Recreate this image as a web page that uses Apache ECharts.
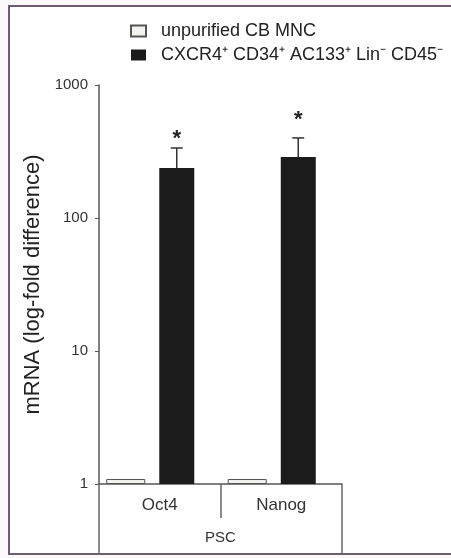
<!DOCTYPE html>
<html><head><meta charset="utf-8">
<script src="https://cdn.jsdelivr.net/npm/echarts@6/dist/echarts.min.js"></script>
<style>html,body{margin:0;padding:0;background:#fdfafc;}#c{width:451px;height:558px;}</style>
</head><body><div id="c"></div>
<script>
const categories = ['Oct4', 'Nanog'];
const groupLabel = ['PSC'];
const unpurified = [1.09, 1.09];
const sorted = [238, 288];
const sortedErrTop = [336, 400];
const starValues = [392, 550];
const yTicks = [1, 10, 100, 1000];
const seriesNames = ['unpurified CB MNC', 'CXCR4\u207A CD34\u207A AC133\u207A Lin\u207B CD45\u207B'];

const chart = echarts.init(document.getElementById('c'), null, {renderer: 'canvas'});
const font = 'Liberation Sans, Arial, Helvetica, sans-serif';
const BLACK_OFFSET = 17;

chart.setOption({
  backgroundColor: 'transparent',
  animation: false,
  graphic: [
    {type: 'rect', z: -10, shape: {x: 9, y: 6, width: 460, height: 548},
     style: {fill: '#ffffff', stroke: '#6e5d72', lineWidth: 2}}
  ],
  legend: {
    data: seriesNames.map(n => ({name: n})),
    orient: 'vertical', left: 130, top: 22, itemGap: 6, padding: 0,
    icon: 'rect', itemWidth: 15, itemHeight: 11,
    selectedMode: false,
    textStyle: {fontFamily: font, fontSize: 18, color: '#222', padding: [0, 0, 0, 10]}
  },
  grid: {left: 99, right: 109, top: 85, bottom: 74, containLabel: false},
  xAxis: [
    {type: 'category', data: categories, position: 'bottom',
     axisLine: {show: true, lineStyle: {color: '#555', width: 1.5}},
     axisTick: {show: true, length: 34, lineStyle: {color: '#666', width: 1.5}},
     axisLabel: {fontFamily: font, fontSize: 17, color: '#333', margin: 13}},
    {type: 'category', data: groupLabel, position: 'bottom',
     axisLine: {show: false},
     axisTick: {show: true, length: 70, lineStyle: {color: '#666', width: 1.5}},
     axisLabel: {fontFamily: font, fontSize: 15, color: '#333', margin: 46}}
  ],
  yAxis: {
    type: 'log', logBase: 10, min: yTicks[0], max: yTicks[yTicks.length - 1],
    name: 'mRNA (log-fold difference)', nameLocation: 'middle', nameGap: 50,
    nameTextStyle: {fontFamily: font, fontSize: 22, color: '#222'},
    axisLine: {show: true, lineStyle: {color: '#555', width: 1.5}},
    axisTick: {show: true, length: 4, lineStyle: {color: '#555'}},
    minorTick: {show: false},
    splitLine: {show: false},
    axisLabel: {fontFamily: font, fontSize: 15, color: '#333', margin: 11,
      formatter: v => String(Math.round(v))}
  },
  series: [
    {name: seriesNames[0], type: 'bar', data: unpurified, barWidth: 39, barGap: '36%',
     itemStyle: {color: '#f5f3ef', borderColor: '#555', borderWidth: 1}},
    {name: seriesNames[1], type: 'bar', data: sorted, barWidth: 35, barGap: '36%',
     itemStyle: {color: '#1b1b1b'}},
    {name: 'spacer', type: 'bar', data: ['-', '-'], barWidth: 6.4, barGap: '36%',
     itemStyle: {color: 'transparent'}},
    {name: 'err', type: 'custom', z: 5,
     data: categories.map((c, i) => [i, sorted[i], sortedErrTop[i], starValues[i]]),
     renderItem: function (params, api) {
       const base = api.coord([api.value(0), api.value(1)]);
       const top = api.coord([api.value(0), api.value(2)]);
       const star = api.coord([api.value(0), api.value(3)]);
       const x = base[0] + BLACK_OFFSET;
       return {type: 'group', children: [
         {type: 'line', shape: {x1: x, y1: base[1], x2: x, y2: top[1]}, style: {stroke: '#333', lineWidth: 1.5}},
         {type: 'line', shape: {x1: x - 6, y1: top[1], x2: x + 6, y2: top[1]}, style: {stroke: '#333', lineWidth: 1.5}},
         {type: 'text', x: x, y: star[1], style: {text: '*', fontFamily: font, fontSize: 22, fontWeight: 'bold',
           fill: '#222', align: 'center', verticalAlign: 'middle'}}
       ]};
     }}
  ]
});
</script></body></html>
